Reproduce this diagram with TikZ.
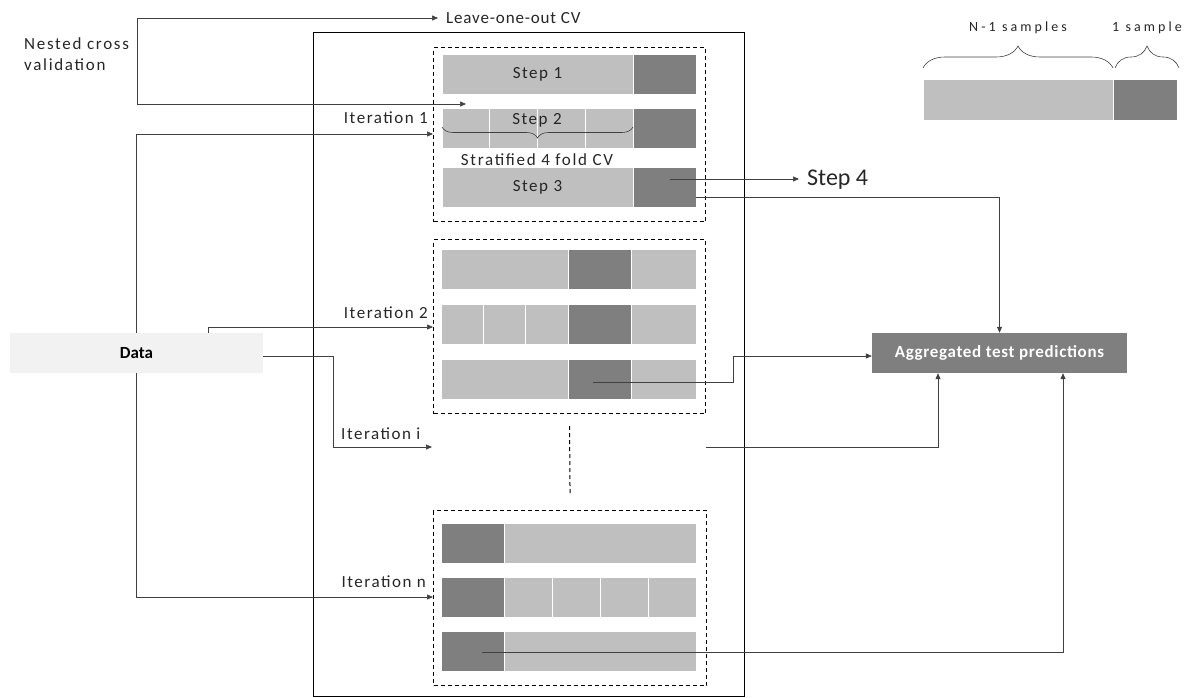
\documentclass[tikz,border=0pt]{standalone}
\usepackage{fontspec}
\setmainfont{Carlito}
\usetikzlibrary{arrows.meta,decorations.pathreplacing}
\definecolor{lightg}{HTML}{BFBFBF}
\definecolor{darkg}{HTML}{7F7F7F}
\definecolor{datag}{HTML}{F2F2F2}
\definecolor{linec}{HTML}{404040}
\definecolor{txt}{HTML}{262626}
\begin{document}
\begin{tikzpicture}[x=1pt,y=-1pt,
  seg/.style={draw=white,line width=0.8pt,inner sep=0pt,outer sep=0pt,anchor=north west,minimum height=40pt,
    text=txt,font=\fontsize{17}{19}\selectfont\addfontfeature{LetterSpace=9}},
  lseg/.style={seg,fill=lightg},
  dseg/.style={seg,fill=darkg},
  dbox/.style={draw=black,line width=1.1pt,dash pattern=on 4pt off 3pt,inner sep=0pt,anchor=north west},
  conn/.style={draw=linec,line width=0.7pt},
  arr/.style={conn,-{Triangle[length=6pt,width=5pt]}},
  lbl/.style={inner sep=0pt,text=txt,font=\fontsize{17}{19}\selectfont\addfontfeature{LetterSpace=9}},
  brc/.style={draw=linec,line width=0.6pt,decorate},
]
\useasboundingbox (0,0) rectangle (1193,698);

% outer frame
\node[draw=black,line width=1.4pt,inner sep=0pt,anchor=north west,minimum width=431pt,minimum height=664pt] (frame) at (313,32) {};

% dashed boxes
\node[dbox,minimum width=272pt,minimum height=174pt] (b1) at (433,47) {};
\node[dbox,minimum width=272pt,minimum height=174pt] (b2) at (433,239) {};
\node[dbox,minimum width=273pt,minimum height=175pt] (b3) at (433,510) {};

% iteration 1
\node[lseg,minimum width=191pt] (s1l) at (442,54) {Step 1};
\node[dseg,minimum width=63pt] (s1d) at (633,54) {};
\node[lseg,minimum width=47.75pt] (s2a) at (442,108) {};
\node[lseg,minimum width=47.75pt] (s2b) at (489.75,108) {};
\node[lseg,minimum width=47.75pt] (s2c) at (537.5,108) {};
\node[lseg,minimum width=47.75pt] (s2e) at (585.25,108) {};
\node[dseg,minimum width=63pt] (s2d) at (633,108) {};
\node[lbl] (s2t) at (537,120) {Step 2};
\draw[brc,decoration={brace,mirror,amplitude=11pt}] (s2a.west |- 0,127) -- (s2e.east |- 0,127);
\node[lbl,font=\fontsize{17}{19}\selectfont\addfontfeature{LetterSpace=10}] (strat) at (537,160) {Stratified 4 fold CV};
\node[lseg,minimum width=191pt] (s3l) at (442,167) {Step 3};
\node[dseg,minimum width=63pt] (s3d) at (633,167) {};

% iteration 2
\node[lseg,minimum width=127pt] (r1a) at (441,249) {};
\node[dseg,minimum width=63pt] (r1d) at (568,249) {};
\node[lseg,minimum width=65pt] (r1b) at (631,249) {};
\node[lseg,minimum width=42.33pt] (r2a) at (441,304) {};
\node[lseg,minimum width=42.33pt] (r2b) at (483.33,304) {};
\node[lseg,minimum width=42.34pt] (r2c) at (525.66,304) {};
\node[dseg,minimum width=63pt] (r2d) at (568,304) {};
\node[lseg,minimum width=65pt] (r2e) at (631,304) {};
\node[lseg,minimum width=127pt] (r3a) at (441,359) {};
\node[dseg,minimum width=63pt] (i2d) at (568,359) {};
\node[lseg,minimum width=65pt] (r3b) at (631,359) {};

% iteration n
\node[dseg,minimum width=63pt] (n1d) at (441,523) {};
\node[lseg,minimum width=192pt] (n1l) at (504,523) {};
\node[dseg,minimum width=63pt] (n2d) at (441,577) {};
\node[lseg,minimum width=48pt] (n2a) at (504,577) {};
\node[lseg,minimum width=48pt] (n2b) at (552,577) {};
\node[lseg,minimum width=48pt] (n2c) at (600,577) {};
\node[lseg,minimum width=48pt] (n2e) at (648,577) {};
\node[dseg,minimum width=63pt] (ind) at (441,631) {};
\node[lseg,minimum width=192pt] (n3l) at (504,631) {};

% dotted continuation
\draw[draw=black,line width=1pt,dash pattern=on 4pt off 3pt] ([yshift=-12pt]b2.south) -- ([yshift=17pt]b3.north);

% labels
\node[lbl,anchor=east] (it1l) at (428,118) {Iteration 1};
\node[lbl,anchor=east] (it2l) at (428,313) {Iteration 2};
\node[lbl,anchor=west] (itil) at (341,434) {Iteration i};
\node[lbl,anchor=east] (itnl) at (426,582) {Iteration n};
\node[lbl,anchor=north west,align=left,font=\fontsize{17}{21}\selectfont\addfontfeature{LetterSpace=10}] (nested) at (24,37) {Nested cross\\validation};
\node[lbl,anchor=west,font=\fontsize{17}{19}\selectfont\addfontfeature{LetterSpace=5}] (loo) at (446,18) {Leave-one-out CV};
\node[lbl,anchor=west,font=\fontsize{24}{26}\selectfont] (step4) at (807,180) {Step 4};

% data and aggregate
\node[fill=datag,minimum width=253pt,minimum height=40pt,inner sep=0pt,text=black,font=\fontsize{17}{19}\selectfont\bfseries] (data) at (136.5,353) {Data};
\node[fill=darkg,minimum width=255pt,minimum height=40pt,inner sep=0pt,text=white,font=\fontsize{17}{19}\selectfont\bfseries\addfontfeature{LetterSpace=4}] (agg) at (999.5,353) {Aggregated test predictions};

% coordinates
\coordinate (nc) at (137,104);
\coordinate (s2in) at (466,104);
\coordinate (it1) at (433,134);
\coordinate (it2) at (433,327);
\coordinate (iti) at (432,447);
\coordinate (itn) at (433,597);
\coordinate (s3a) at (670,179);
\coordinate (i2a) at (593,382);
\coordinate (itr) at (706,447);
\coordinate (ina) at (482,652);

% connectors
\draw[arr] (nc) |- ([xshift=-8pt]loo.west);
\draw[arr] (nc) -- (s2in);
\draw[arr] (data.north) |- (it1);
\draw[arr] ([xshift=71.5pt]data.north) |- (it2);
\draw[arr] ([yshift=-3pt]data.east) -- ++(70,0) |- (iti);
\draw[arr] (data.south) |- (itn);
\draw[arr] (s3a) -- ([xshift=-8pt]step4.west |- s3a);
\draw[arr] ([yshift=-10pt]s3d.east) -| (agg.north);
\draw[arr] (i2a) -- ++(140,0) |- ([yshift=-3pt]agg.west);
\draw[arr] (itr) -| ([xshift=-61.5pt]agg.south);
\draw[arr] (ina) -| ([xshift=63.5pt]agg.south);

% legend
\node[lseg,minimum width=190pt,minimum height=41pt] (legl) at (923,79) {};
\node[dseg,minimum width=64pt,minimum height=41pt] (legd) at (1113,79) {};
\draw[brc,decoration={brace,amplitude=22pt}] (legl.west |- 0,68) -- (legl.east |- 0,68);
\draw[brc,decoration={brace,amplitude=22pt}] ([xshift=2pt]legd.west |- 0,68) -- ([xshift=2pt]legd.east |- 0,68);
\node[lbl,font=\fontsize{14}{16}\selectfont\addfontfeature{LetterSpace=22}] (n1s) at (1018,28) {N-1 samples};
\node[lbl,font=\fontsize{14}{16}\selectfont\addfontfeature{LetterSpace=22}] (os) at (1147,28) {1 sample};
\end{tikzpicture}
\end{document}
